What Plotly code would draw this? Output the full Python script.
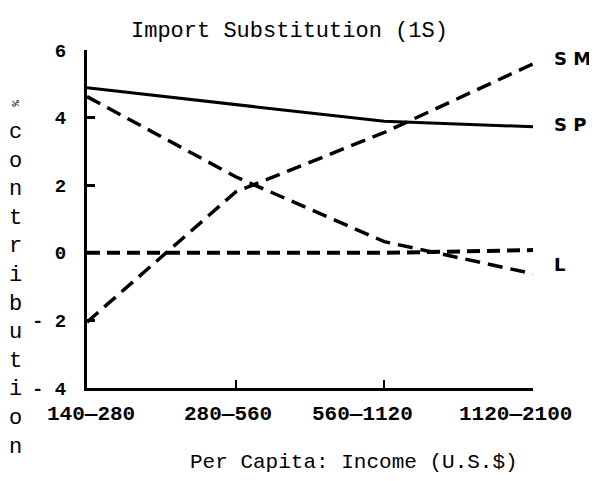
import plotly.graph_objects as go

categories = ["140—280", "280—560", "560—1120", "1120—2100"]
x_pos = [0, 1, 2, 3]
sp_values = [4.88, 4.39, 3.89, 3.73]
sm_values = [-2.05, 1.8, 3.56, 5.59]
l_values = [4.62, 2.25, 0.33, -0.62]
zero_values = [0.0, 0.0, 0.0, 0.08]
y_ticks = [-4, -2, 0, 2, 4, 6]
y_ticktext = ["- 4", "- 2", "0", "2", "4", "6"]
series_labels = ["S M", "S P", "L"]
series_label_y = [5.75, 3.8, -0.35]
ylabel_letters = list("contribution")

fig = go.Figure()
fig.add_trace(go.Scatter(x=x_pos, y=sp_values, mode="lines",
                         line=dict(color="black", width=3), name="SP"))
fig.add_trace(go.Scatter(x=x_pos, y=sm_values, mode="lines",
                         line=dict(color="black", width=3.5, dash="15px,8px"), name="SM"))
fig.add_trace(go.Scatter(x=x_pos, y=l_values, mode="lines",
                         line=dict(color="black", width=3.5, dash="15px,8px"), name="L"))
fig.add_trace(go.Scatter(x=x_pos, y=zero_values, mode="lines",
                         line=dict(color="black", width=4, dash="13px,7px"), name="zero"))

mono = "Liberation Mono"
label_offsets = [0.03, -0.05, -0.15, -0.12]
for xp, lab, off in zip(x_pos, categories, label_offsets):
    fig.add_annotation(x=xp + off, y=0, xref="x", yref="paper", yshift=-26,
                       text=lab, showarrow=False, yanchor="middle",
                       font=dict(family=mono, size=21, color="black", weight="bold"))
for lab, yv in zip(series_labels, series_label_y):
    fig.add_annotation(x=1, y=yv, xref="paper", yref="y", xshift=19,
                       text="<b>" + lab + "</b>", showarrow=False, xanchor="left",
                       font=dict(family="DejaVu Sans", size=18, color="black"))
# vertical stacked y-axis title
fig.add_annotation(x=0, y=1, xref="paper", yref="paper", showarrow=False,
                   text="<br>".join(ylabel_letters), xanchor="center", yanchor="top",
                   xshift=-72, yshift=-68,
                   font=dict(family=mono, size=22, color="black"))
fig.add_annotation(x=0, y=1, xref="paper", yref="paper", showarrow=False,
                   text="%", xanchor="center", yanchor="middle",
                   xshift=-72, yshift=-53, textangle=90,
                   font=dict(family=mono, size=11, color="black"))
# title and x-axis title
fig.add_annotation(x=0, y=1, xref="paper", yref="paper", showarrow=False,
                   text="Import Substitution (1S)", xanchor="center", yanchor="middle",
                   xshift=202, yshift=19,
                   font=dict(family=mono, size=22, color="black"))
fig.add_annotation(x=0.5, y=0, xref="paper", yref="paper", showarrow=False,
                   text="Per Capita: Income (U.S.$)", xanchor="center", yanchor="middle",
                   xshift=44, yshift=-74,
                   font=dict(family=mono, size=21, color="black"))

fig.update_layout(
    width=597, height=481,
    margin=dict(l=79, r=72, t=42, b=101, autoexpand=False),
    paper_bgcolor="white", plot_bgcolor="white",
    showlegend=False,
    xaxis=dict(range=[0, 3], tickvals=x_pos, showticklabels=False, automargin=False,
               showgrid=False, zeroline=False, showline=True, linewidth=3,
               linecolor="black", ticks="inside", ticklen=8, tickwidth=2,
               tickcolor="black"),
    yaxis=dict(range=[-4, 6], tickvals=y_ticks, ticktext=y_ticktext, automargin=False,
               showgrid=False, zeroline=False, showline=True, linewidth=3,
               linecolor="black", ticks="inside", ticklen=8, tickwidth=3,
               tickcolor="black", ticklabelstandoff=14,
               tickfont=dict(family=mono, size=19, color="black", weight="bold")),
)
fig.write_html("out.html")
